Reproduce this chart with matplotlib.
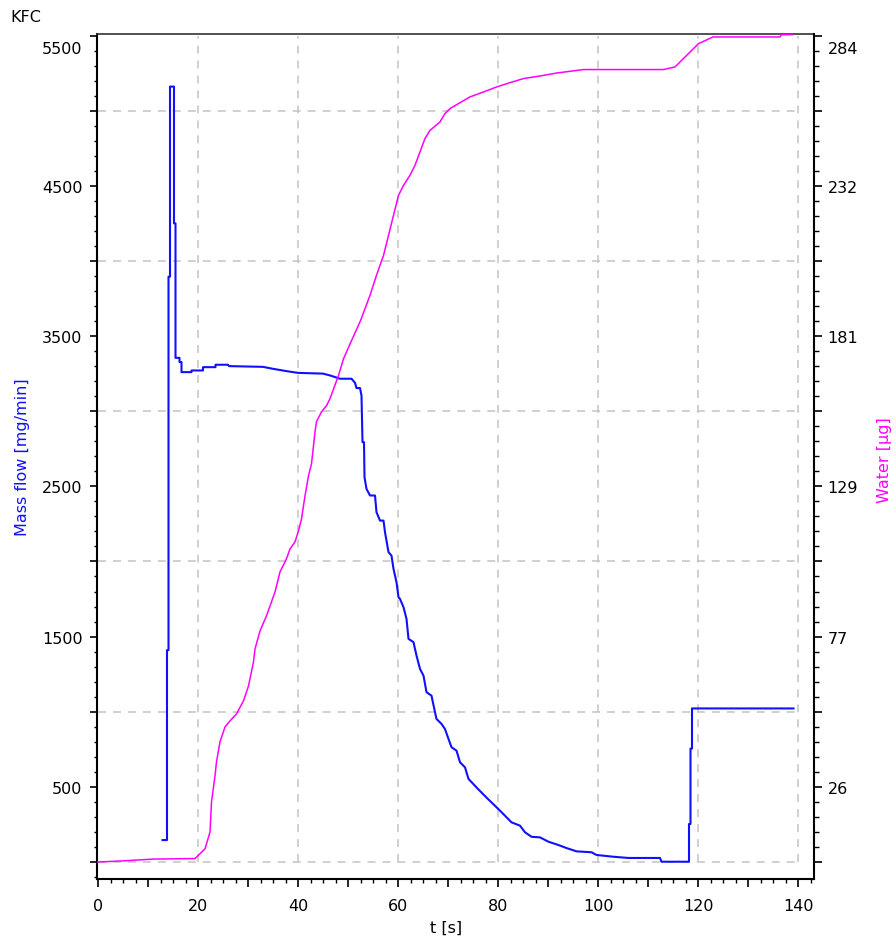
import numpy as np
import matplotlib
matplotlib.use("Agg")
import matplotlib.pyplot as plt
from matplotlib.ticker import MultipleLocator, FixedLocator, FuncFormatter
from matplotlib.transforms import ScaledTranslation

# Mass flow curve (blue), time in s, value in mg/min
flow_t = [12.9, 13.8, 13.8, 14.1, 14.1, 14.4, 14.4, 15.2, 15.2, 15.5, 15.5, 16.3, 16.3, 16.7,
          16.7, 18.7, 18.7, 21.0, 21.0, 23.5, 23.5, 26.0, 26.2, 33.0, 35.0, 38.0, 40.0, 45.0,
          46.4, 48.4, 50.7, 51.4, 51.7, 52.4, 52.7, 52.9, 53.2, 53.3, 53.7, 54.4, 55.4, 55.7,
          56.4, 57.1, 57.4, 58.1, 58.7, 59.1, 59.7, 60.1, 60.4, 61.1, 61.7, 62.1, 63.1, 63.7,
          64.4, 65.1, 65.7, 66.7, 67.4, 67.7, 68.7, 69.4, 70.1, 70.7, 71.7, 72.4, 73.4, 74.1,
          76.0, 78.0, 80.4, 81.4, 82.7, 84.4, 85.4, 86.7, 88.4, 90.1, 92.1, 93.7, 95.7, 98.7,
          99.7, 103.1, 106.1, 112.4, 112.7, 118.2, 118.2, 118.5, 118.5, 118.8, 118.8, 139.1]
flow_v = [146, 146, 1410, 1410, 3895, 3895, 5160, 5160, 4250, 4250, 3355, 3355, 3327, 3327,
          3260, 3260, 3271, 3271, 3293, 3293, 3309, 3309, 3300, 3295, 3282, 3265, 3255, 3250,
          3238, 3216, 3216, 3189, 3154, 3154, 3104, 2794, 2794, 2561, 2483, 2439, 2439, 2328,
          2272, 2272, 2195, 2062, 2039, 1951, 1862, 1762, 1751, 1696, 1618, 1485, 1463, 1374,
          1285, 1240, 1130, 1107, 997, 952, 919, 885, 819, 764, 741, 664, 630, 553,
          486, 419, 342, 308, 264, 242, 198, 168, 164, 135, 113, 93, 71, 65,
          47, 35, 27, 27, 2, 2, 253, 253, 755, 755, 1022, 1022]

# Water curve (magenta), time in s, value in ug
water_t = [0, 5, 11, 19.4, 21.4, 22.4, 22.7, 23.4, 23.7, 24.4, 25.4, 26.4, 27.7, 29.1, 30.1,
           31.1, 31.4, 32.4, 33.7, 34.7, 35.4, 36.4, 37.7, 38.4, 39.4, 40.1, 40.7, 41.4, 42.1,
           42.7, 43.1, 43.4, 43.7, 44.7, 45.7, 46.4, 48.1, 49.1, 50.4, 52.5, 54.4, 55.7, 57.1,
           58.1, 59.1, 60.1, 61.1, 62.4, 63.4, 64.4, 65.4, 66.4, 68.4, 69.4, 70.4, 72.1, 74.4,
           77.1, 79.7, 82.4, 85.1, 89.1, 91.7, 94.4, 97.1, 113.1, 115.4, 120.1, 123.0, 136.4,
           136.7, 138.9]
water_v = [0, 0.4, 1.0, 1.2, 4.5, 10.3, 20.6, 29.6, 34.4, 41.3, 46.4, 48.5, 50.9, 55.4, 60.5,
           68.8, 73.2, 79.4, 84.6, 89.4, 92.8, 99.7, 104.2, 107.6, 110.0, 113.8, 117.9, 125.8, 132.7,
           136.8, 143.0, 147.8, 151.3, 154.7, 156.8, 159.2, 167.2, 172.9, 178.0, 186.0, 194.7, 201.6, 208.4,
           215.3, 222.2, 229.1, 232.5, 236.0, 239.4, 244.0, 248.6, 251.4, 254.3, 257.2, 258.9, 260.6, 262.9,
           264.6, 266.3, 267.8, 269.2, 270.3, 271.1, 271.7, 272.3, 272.3, 273.2, 281.2, 283.5, 283.5,
           284.3, 284.3]

x_labels = [0, 20, 40, 60, 80, 100, 120, 140]
left_labels = [500, 1500, 2500, 3500, 4500, 5500]
right_labels = [26, 77, 129, 181, 232, 284]

BLUE = "#1010ff"
MAGENTA = "#ff00ff"
GRID = "#c4c4c4"
FS = 11.5

plt.rcParams["font.family"] = ["DejaVu Sans"]

fig = plt.figure(figsize=(8.96, 9.37), dpi=100)
ax = fig.add_axes([97 / 896, 1 - 880 / 937, (814 - 97) / 896, (880 - 35) / 937])

ylo, yhi = -113, 5510
k = right_labels[-1] / left_labels[-1]
ax.set_xlim(-0.2, 143.2)
ax.set_ylim(ylo, yhi)

# dashed grid limited to the data range
dash = (0, (5.2, 4.6))
ax.vlines(x_labels[1:], 0, 5500, colors=GRID, linestyles=dash, lw=1.1, zorder=1)
ax.hlines(np.arange(0, 5001, 1000), 0, 140, colors=GRID, linestyles=dash, lw=1.1, zorder=1)

ax.plot(flow_t, flow_v, color=BLUE, lw=1.5, zorder=3)

# x ticks
ax.xaxis.set_major_locator(MultipleLocator(10))
ax.xaxis.set_minor_locator(MultipleLocator(2.5))
ax.xaxis.set_major_formatter(FuncFormatter(lambda v, p: f"{v:.0f}" if round(v) in x_labels else ""))
ax.tick_params(axis="x", which="major", length=5.5, width=1.2, pad=8.5, labelsize=FS)
ax.tick_params(axis="x", which="minor", length=3, width=1.0)

# left y ticks
ax.yaxis.set_major_locator(FixedLocator(np.arange(0, 5501, 500)))
ax.yaxis.set_minor_locator(MultipleLocator(100))
ax.yaxis.set_major_formatter(FuncFormatter(lambda v, p: f"{v:.0f}" if round(v) in left_labels else ""))
ax.tick_params(axis="y", which="major", length=5, width=1.2, pad=5.5, labelsize=FS)
ax.tick_params(axis="y", which="minor", length=2.2, width=1.0)

for side in ["left", "bottom", "right"]:
    ax.spines[side].set_linewidth(1.5)
ax.spines["top"].set_linewidth(1.2)
ax.spines["top"].set_color("#333333")

# right axis for water
ax2 = ax.twinx()
ax2.set_ylim(ylo * k, yhi * k)
ax2.plot(water_t, water_v, color=MAGENTA, lw=1.1, zorder=3)
ax2.yaxis.set_major_locator(FixedLocator(np.arange(0, 5501, 500) * k))
ax2.yaxis.set_minor_locator(FixedLocator(np.arange(0, 5501, 100) * k))
right_pos = [v * k for v in left_labels]
ax2.yaxis.set_major_formatter(FuncFormatter(
    lambda v, p: str(right_labels[int(np.argmin([abs(v - r) for r in right_pos]))])
    if min(abs(v - r) for r in right_pos) < 1 else ""))
ax2.tick_params(axis="y", which="major", length=5.8, width=1.2, pad=4, labelsize=FS)
ax2.tick_params(axis="y", which="minor", length=3.6, width=1.0)
for s in ax2.spines.values():
    s.set_visible(False)
ax.spines["right"].set_zorder(5)

# push the top labels down a little, like the original
off = ScaledTranslation(0, -8 / 72, fig.dpi_scale_trans)
fig.canvas.draw()
for lab in [ax.get_yticklabels()[-1], ax2.get_yticklabels()[-1]]:
    lab.set_transform(lab.get_transform() + off)

fig.text(10 / 896, 1 - 18 / 937, "KFC", fontsize=FS, ha="left", va="center")
fig.text(446 / 896, 1 - 928 / 937, "t [s]", fontsize=FS, ha="center", va="center")
fig.text(22 / 896, 1 - 457 / 937, "Mass flow [mg/min]", fontsize=FS, color=BLUE,
         rotation=90, ha="center", va="center")
fig.text(884 / 896, 1 - 460 / 937, "Water [\u00b5g]", fontsize=FS, color=MAGENTA,
         rotation=90, ha="center", va="center")

fig.savefig("out.png", dpi=100)
